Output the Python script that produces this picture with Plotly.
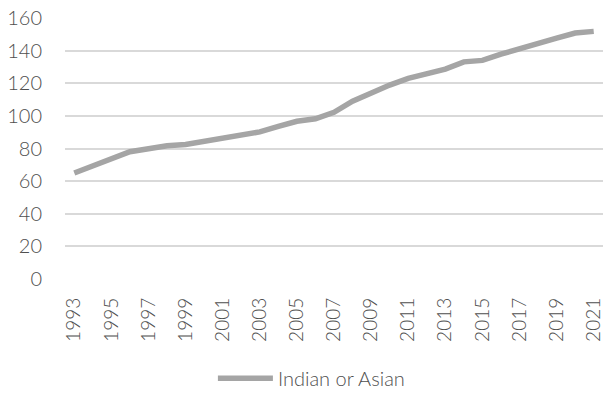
import plotly.graph_objects as go

years = list(range(1993, 2022))
values = [65, 69.5, 74, 78, 79.8, 81.7, 82.5, 84.3, 86, 87.8, 90.2, 93.5, 96.7, 98.2,
          102.2, 109, 114.2, 118.9, 123, 125.6, 128.7, 133.1, 134, 137.8, 141.3,
          144.7, 147.7, 150.8, 151.8]
series_name = "Indian or Asian"
y_ticks = list(range(0, 161, 20))
x_ticks = [str(y) for y in years[::2]]

FONT = "Lato"
TXT = "#4f4f4f"

fig = go.Figure()
fig.add_trace(go.Scatter(
    x=[str(y) for y in years], y=values, mode="lines", name=series_name,
    line=dict(color="#a5a5a5", width=5.5, shape="linear"),
))

fig.update_layout(
    width=604, height=398,
    margin=dict(l=65, r=1, t=18, b=117),
    paper_bgcolor="white", plot_bgcolor="white",
    font=dict(family=FONT, size=20, color=TXT, weight=300),
    showlegend=True,
    legend=dict(orientation="h", x=0.458, xanchor="center", y=-0.38, yanchor="middle",
                font=dict(size=20, color=TXT, weight=300), itemwidth=55),
    xaxis=dict(type="category", range=[-0.5, len(years) - 0.5],
               tickmode="array", tickvals=x_ticks, ticktext=x_ticks,
               tickangle=-90, showgrid=False, showline=False, zeroline=False,
               ticks="", ticklabelstandoff=14,
               tickfont=dict(size=19, color=TXT, weight=300)),
    yaxis=dict(range=[0, 160], tickmode="array", tickvals=y_ticks,
               showgrid=True, gridcolor="#d9d9d9", gridwidth=1.5,
               zeroline=False, showline=False, ticks="",
               ticklabelstandoff=22, tickfont=dict(size=20, color=TXT, weight=300)),
)

fig.write_html("out.html")
